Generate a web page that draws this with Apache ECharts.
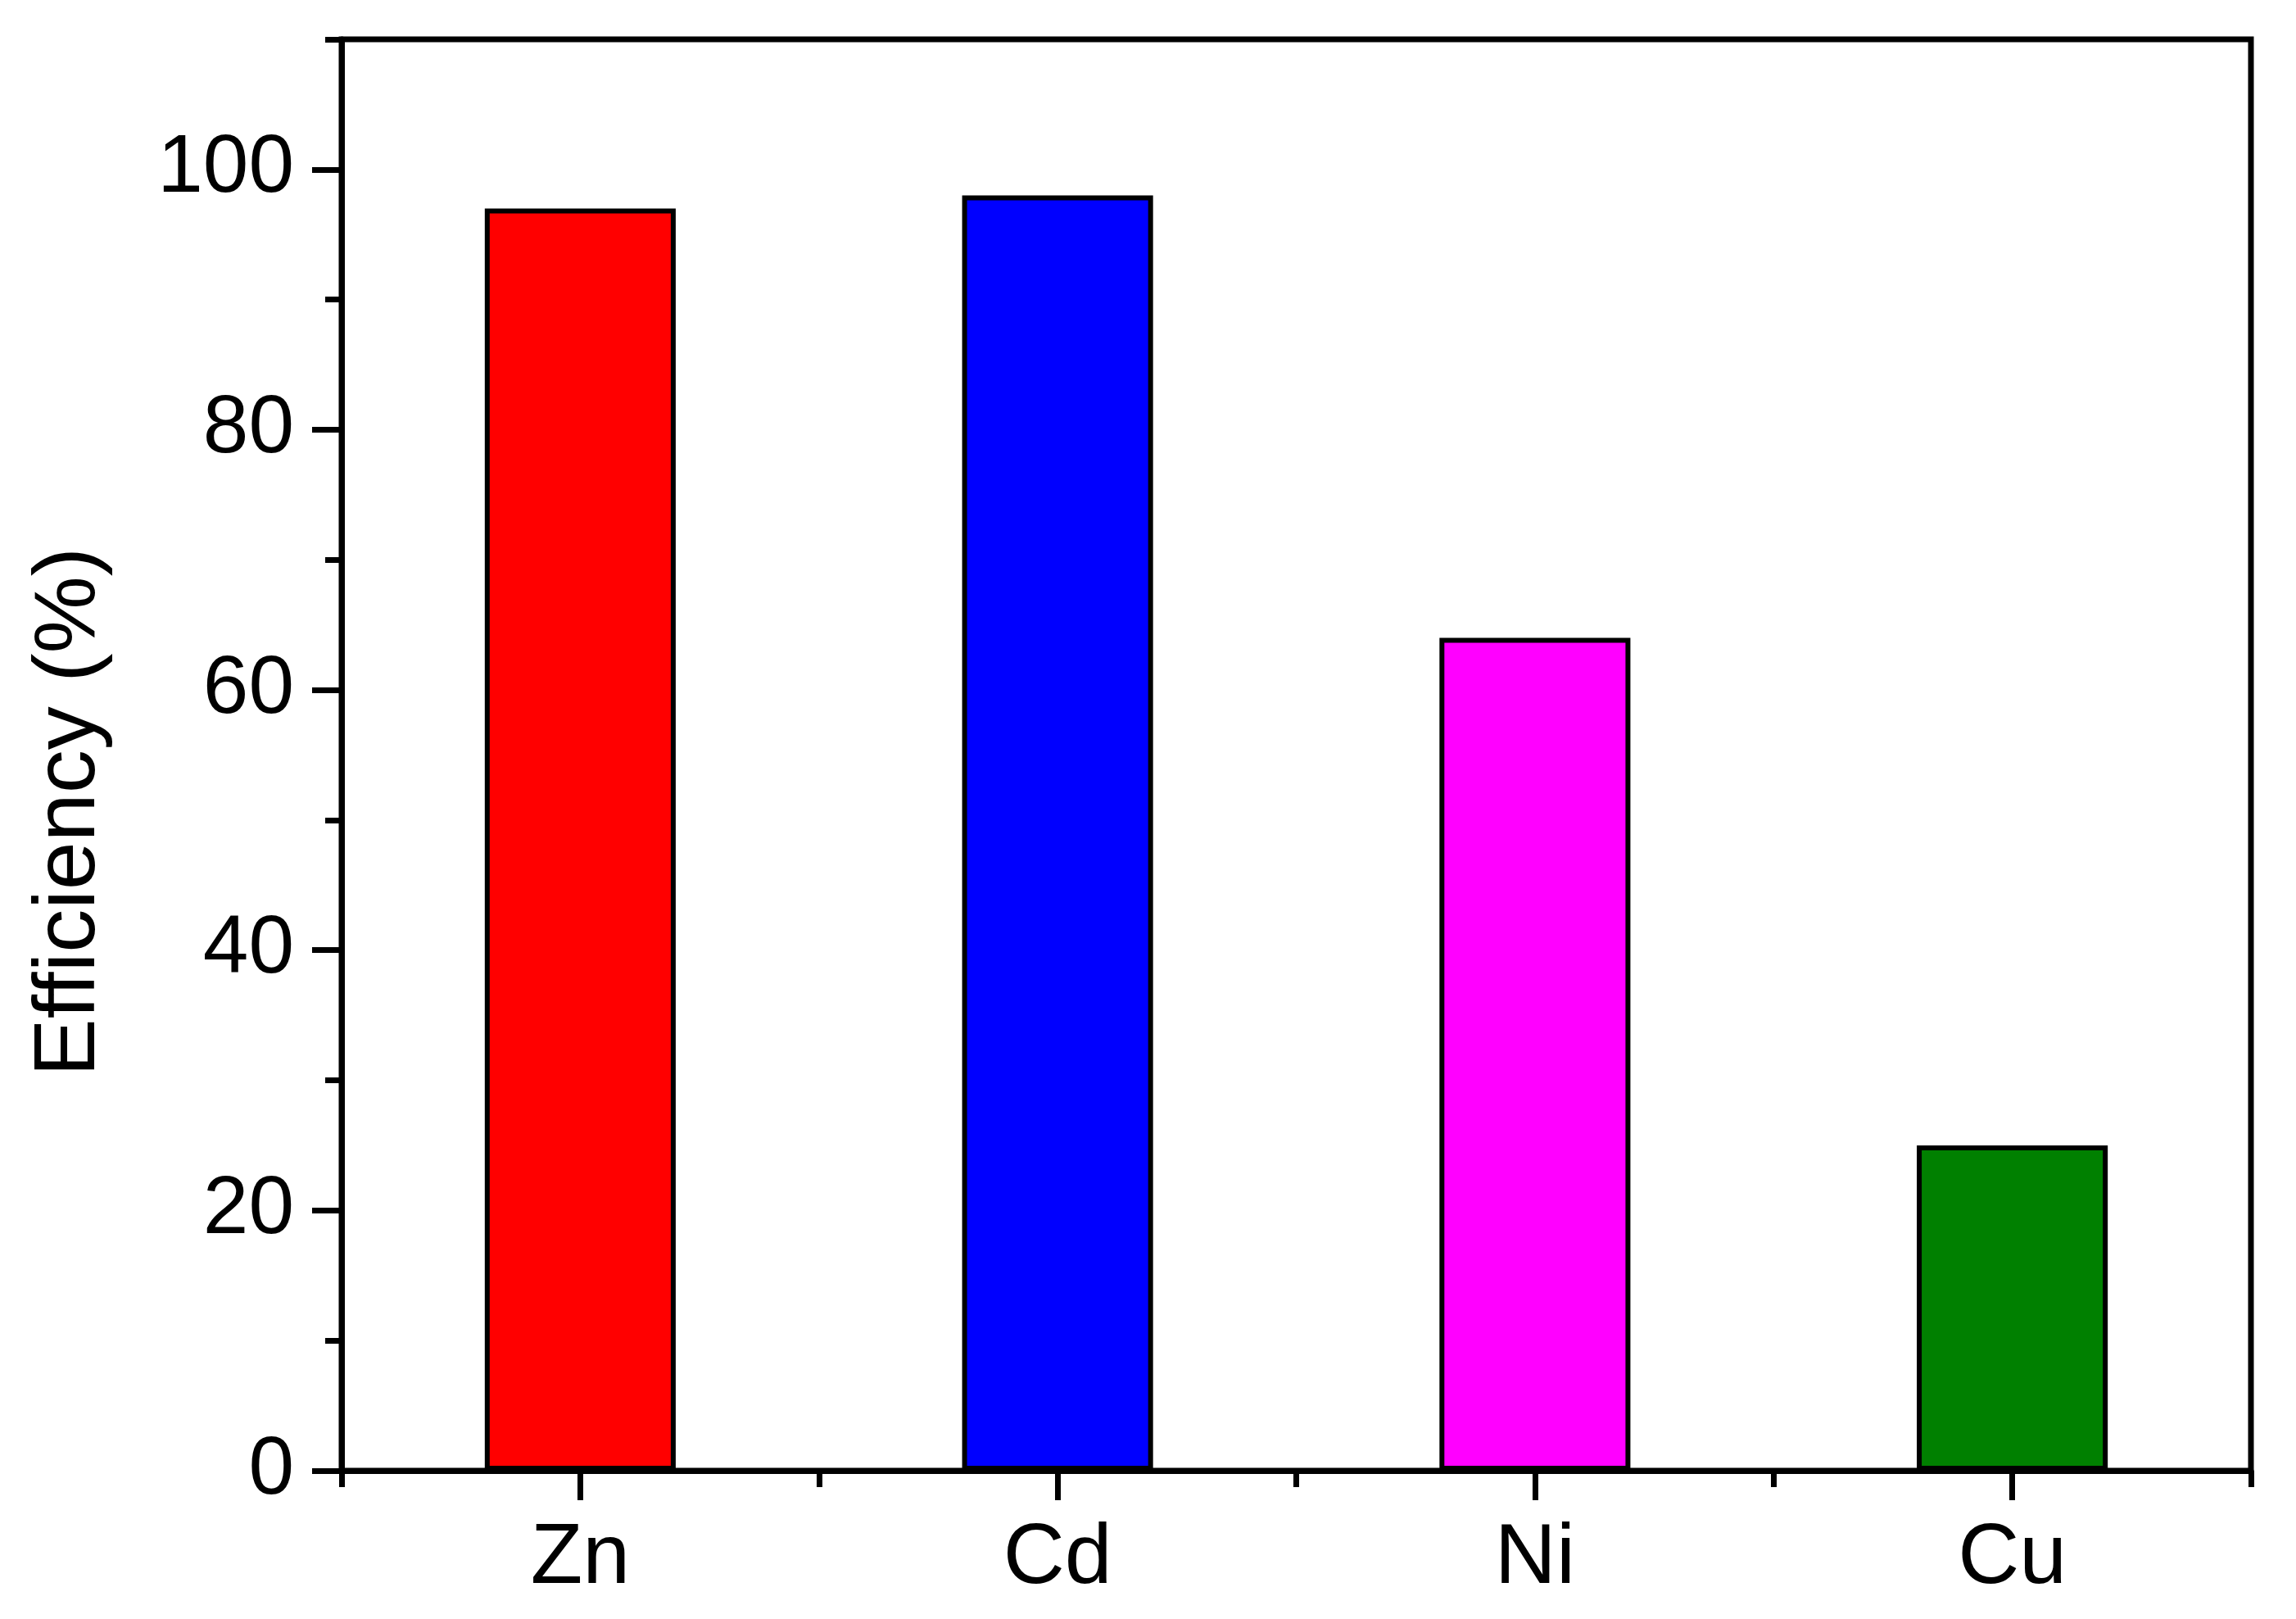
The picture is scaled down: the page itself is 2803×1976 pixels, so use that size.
<!DOCTYPE html>
<html>
<head>
<meta charset="utf-8">
<script src="https://cdn.jsdelivr.net/npm/echarts@6/dist/echarts.min.js"></script>
<style>
html,body{margin:0;padding:0;background:#fff;}
#chart{width:2803px;height:1976px;}
</style>
</head>
<body>
<div id="chart"></div>
<script>
const categories = ['Zn', 'Cd', 'Ni', 'Cu'];
const efficiency = [97, 98, 64, 25];
const barColors = ['#FF0000', '#0000FF', '#FF00FF', '#008000'];
const yMajorTicks = [0, 20, 40, 60, 80, 100];
const yAxisTitle = 'Efficiency (%)';

const FONT = '"Liberation Sans", Arial, sans-serif';
const LW = 7;
const chart = echarts.init(document.getElementById('chart'));
chart.setOption({
  animation: false,
  backgroundColor: '#fff',
  grid: {
    left: 417, top: 48, width: 2331, height: 1747,
    show: true, borderColor: '#000', borderWidth: LW, backgroundColor: 'transparent'
  },
  xAxis: [
    {
      type: 'category', data: categories, position: 'bottom',
      boundaryGap: true,
      axisLine: { show: true, lineStyle: { color: '#000', width: LW } },
      axisTick: { show: true, alignWithLabel: true, length: 36, lineStyle: { color: '#000', width: LW } },
      axisLabel: { color: '#000', fontSize: 104, fontFamily: FONT, margin: 56 },
      splitLine: { show: false }
    },
    {
      type: 'category', data: categories, position: 'bottom',
      boundaryGap: true,
      axisLine: { show: false },
      axisTick: { show: true, length: 20, lineStyle: { color: '#000', width: LW } },
      axisLabel: { show: false },
      splitLine: { show: false }
    }
  ],
  yAxis: [
    {
      type: 'value', min: 0, max: 110, interval: 20, position: 'left',
      axisLine: { show: true, lineStyle: { color: '#000', width: LW } },
      axisTick: { show: true, length: 36, customValues: yMajorTicks, lineStyle: { color: '#000', width: LW } },
      axisLabel: { color: '#000', fontSize: 100, fontFamily: FONT, margin: 58, customValues: yMajorTicks },
      splitLine: { show: false }
    },
    {
      type: 'value', min: 0, max: 110, interval: 10, position: 'left',
      axisLine: { show: false },
      axisTick: { show: true, length: 20, lineStyle: { color: '#000', width: LW } },
      axisLabel: { show: false },
      splitLine: { show: false }
    }
  ],
  graphic: [{
    type: 'text',
    x: 86, y: 991,
    rotation: Math.PI / 2,
    style: {
      text: yAxisTitle, fill: '#000', fontSize: 106, fontFamily: FONT,
      align: 'center', verticalAlign: 'middle'
    }
  }],
  series: [{
    type: 'bar',
    xAxisIndex: 0, yAxisIndex: 0,
    barWidth: '40%',
    data: efficiency.map((v, i) => ({
      value: v,
      itemStyle: { color: barColors[i], borderColor: '#000', borderWidth: 6 }
    }))
  }]
});
</script>
</body>
</html>
